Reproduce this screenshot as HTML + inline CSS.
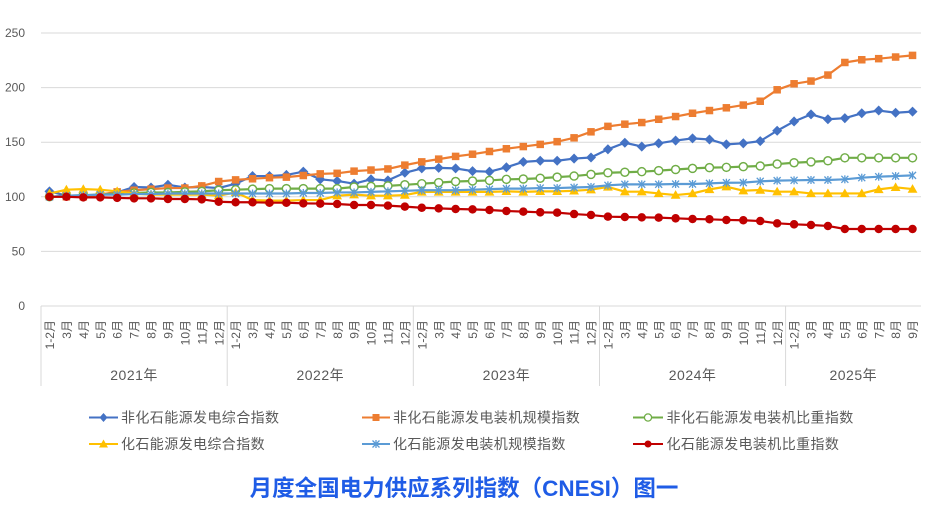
<!DOCTYPE html>
<html>
<head>
<meta charset="utf-8">
<style>
html,body{margin:0;padding:0;background:#fff;}
svg{display:block;}
.yl{font-family:"Liberation Sans","Noto Sans CJK SC",sans-serif;font-size:12px;fill:#595959;}
.ml{font-family:"Liberation Sans","Noto Sans CJK SC",sans-serif;font-size:12px;fill:#595959;}
.yr{font-family:"Liberation Sans","Noto Sans CJK SC",sans-serif;font-size:14px;fill:#595959;letter-spacing:0.5px;}
.lg{font-family:"Liberation Sans","Noto Sans CJK SC",sans-serif;font-size:14px;fill:#595959;letter-spacing:0.4px;}
.tt{font-family:"Liberation Sans","Noto Sans CJK SC",sans-serif;font-size:22.5px;font-weight:bold;fill:#1f5ce6;}
</style>
</head>
<body>
<svg width="946" height="506" viewBox="0 0 946 506" xmlns="http://www.w3.org/2000/svg">
<defs>
  <marker id="mD" markerUnits="userSpaceOnUse" overflow="visible" markerWidth="1" markerHeight="1" refX="0" refY="0">
    <path d="M0,4.6 L0.295,0 L0,-4.6 L-0.295,0Z" fill="#4472C4"/>
  </marker>
  <marker id="mS" markerUnits="userSpaceOnUse" overflow="visible" markerWidth="1" markerHeight="1" refX="0" refY="0">
    <rect x="-0.222" y="-3.43" width="0.444" height="6.86" fill="#ED7D31"/>
  </marker>
  <marker id="mO" markerUnits="userSpaceOnUse" overflow="visible" markerWidth="1" markerHeight="1" refX="0" refY="0">
    <ellipse cx="0" cy="0" rx="0.28" ry="4.35" fill="#70AD47"/>
    <ellipse cx="0" cy="0" rx="0.195" ry="3.0" fill="#ffffff"/>
  </marker>
  <marker id="mT" markerUnits="userSpaceOnUse" overflow="visible" markerWidth="1" markerHeight="1" refX="0" refY="0">
    <path d="M0,4.5 L0.29,-3.4 L-0.29,-3.4Z" fill="#FFC000"/>
  </marker>
  <marker id="mX" markerUnits="userSpaceOnUse" overflow="visible" markerWidth="1" markerHeight="1" refX="0" refY="0">
    <polygon points="-0.1796,-3.626 0.234,2.784 0.1796,3.626 -0.234,-2.784" fill="#5B9BD5"/>
    <polygon points="-0.1796,3.626 0.234,-2.784 0.1796,-3.626 -0.234,2.784" fill="#5B9BD5"/>
    <rect x="-0.0384" y="-3.663" width="0.0768" height="7.326" fill="#5B9BD5"/>
  </marker>
  <marker id="mR" markerUnits="userSpaceOnUse" overflow="visible" markerWidth="1" markerHeight="1" refX="0" refY="0">
    <ellipse cx="0" cy="0" rx="0.25" ry="3.9" fill="#C00000"/>
  </marker>
</defs>

<!-- gridlines -->
<g stroke="#d9d9d9" stroke-width="1">
  <line x1="41" y1="33" x2="921" y2="33"/>
  <line x1="41" y1="87.6" x2="921" y2="87.6"/>
  <line x1="41" y1="142.2" x2="921" y2="142.2"/>
  <line x1="41" y1="196.8" x2="921" y2="196.8"/>
  <line x1="41" y1="251.4" x2="921" y2="251.4"/>
  <line x1="41" y1="306" x2="921" y2="306"/>
  <line x1="41" y1="306" x2="41" y2="386"/>
  <line x1="227.2" y1="306" x2="227.2" y2="386"/>
  <line x1="413.3" y1="306" x2="413.3" y2="386"/>
  <line x1="599.5" y1="306" x2="599.5" y2="386"/>
  <line x1="785.6" y1="306" x2="785.6" y2="386"/>
</g>

<!-- y labels -->
<g class="yl" text-anchor="end">
  <text x="25" y="37">250</text>
  <text x="25" y="91.6">200</text>
  <text x="25" y="146.2">150</text>
  <text x="25" y="200.8">100</text>
  <text x="25" y="255.4">50</text>
  <text x="25" y="310">0</text>
</g>

<!-- series -->
<g transform="translate(49.46,306) scale(16.923,-1.092)" fill="none" stroke-linejoin="round">
  <polyline vector-effect="non-scaling-stroke" stroke="#4472C4" stroke-width="2.2" points="0,105 1,101 2,101 3,102 4,104 5,109 6,108.5 7,111 8,108.5 9,109 10,108 11,112 12,119 13,119 14,120 15,123 16,116 17,114.5 18,112 19,116 20,115 21,122 22,126 23,126.5 24,126 25,123.5 26,123 27,127 28,132 29,133 30,133 31,135 32,136 33,143.5 34,149.5 35,146 36,149 37,151.5 38,153.5 39,152.5 40,148 41,149 42,151 43,160.5 44,169 45,175.5 46,171 47,172 48,176.5 49,179 50,177 51,178"/>
  <polyline stroke="none" marker-start="url(#mD)" marker-mid="url(#mD)" marker-end="url(#mD)" points="0,105 1,101 2,101 3,102 4,104 5,109 6,108.5 7,111 8,108.5 9,109 10,108 11,112 12,119 13,119 14,120 15,123 16,116 17,114.5 18,112 19,116 20,115 21,122 22,126 23,126.5 24,126 25,123.5 26,123 27,127 28,132 29,133 30,133 31,135 32,136 33,143.5 34,149.5 35,146 36,149 37,151.5 38,153.5 39,152.5 40,148 41,149 42,151 43,160.5 44,169 45,175.5 46,171 47,172 48,176.5 49,179 50,177 51,178"/>

  <polyline vector-effect="non-scaling-stroke" stroke="#ED7D31" stroke-width="2.2" points="0,100 1,100 2,100 3,102 4,104.5 5,106 6,107 7,108 8,108 9,110 10,114 11,115.5 12,116.5 13,117.5 14,118 15,119.5 16,121 17,121.5 18,123.5 19,124.5 20,125.5 21,129 22,132 23,134.5 24,137 25,139 26,141.5 27,144 28,146 29,148 30,150.5 31,154 32,159.5 33,164.5 34,166.5 35,168 36,171 37,173.5 38,176.5 39,179 40,181.5 41,184 42,187.5 43,198 44,203.5 45,206 46,211.5 47,223 48,225.5 49,226.5 50,228 51,229.5"/>
  <polyline stroke="none" marker-start="url(#mS)" marker-mid="url(#mS)" marker-end="url(#mS)" points="0,100 1,100 2,100 3,102 4,104.5 5,106 6,107 7,108 8,108 9,110 10,114 11,115.5 12,116.5 13,117.5 14,118 15,119.5 16,121 17,121.5 18,123.5 19,124.5 20,125.5 21,129 22,132 23,134.5 24,137 25,139 26,141.5 27,144 28,146 29,148 30,150.5 31,154 32,159.5 33,164.5 34,166.5 35,168 36,171 37,173.5 38,176.5 39,179 40,181.5 41,184 42,187.5 43,198 44,203.5 45,206 46,211.5 47,223 48,225.5 49,226.5 50,228 51,229.5"/>

  <polyline vector-effect="non-scaling-stroke" stroke="#70AD47" stroke-width="2.2" points="0,100 1,101 2,101.5 3,102 4,103 5,103.5 6,104 7,104 8,104.5 9,105 10,106 11,106.5 12,107 13,107.5 14,107.5 15,107.5 16,107.5 17,107.5 18,109 19,109.5 20,110 21,111 22,112 23,113 24,114 25,114.5 26,115 27,116 28,116.3 29,117 30,118 31,119 32,120.5 33,122 34,122.5 35,123 36,124 37,125 38,126 39,126.7 40,127 41,127.6 42,128.2 43,130 44,131.2 45,132 46,133 47,135.7 48,135.7 49,135.7 50,135.7 51,135.7"/>
  <polyline stroke="none" marker-start="url(#mO)" marker-mid="url(#mO)" marker-end="url(#mO)" points="0,100 1,101 2,101.5 3,102 4,103 5,103.5 6,104 7,104 8,104.5 9,105 10,106 11,106.5 12,107 13,107.5 14,107.5 15,107.5 16,107.5 17,107.5 18,109 19,109.5 20,110 21,111 22,112 23,113 24,114 25,114.5 26,115 27,116 28,116.3 29,117 30,118 31,119 32,120.5 33,122 34,122.5 35,123 36,124 37,125 38,126 39,126.7 40,127 41,127.6 42,128.2 43,130 44,131.2 45,132 46,133 47,135.7 48,135.7 49,135.7 50,135.7 51,135.7"/>

  <polyline vector-effect="non-scaling-stroke" stroke="#FFC000" stroke-width="2.2" points="0,103 1,106.5 2,107 3,106.5 4,105 5,103 6,102 7,102 8,102 9,102 10,101 11,104 12,97 13,96.5 14,96.5 15,97 16,97 17,101 18,102 19,101 20,101 21,101.6 22,104.5 23,104.5 24,104.5 25,104.5 26,104.5 27,105 28,104.5 29,105 30,105 31,105.5 32,106.5 33,109 34,104.7 35,104.7 36,103.1 37,101.6 38,103.1 39,106.8 40,109.3 41,105.6 42,106.2 43,104.7 44,104.7 45,103.1 46,103.1 47,103.1 48,103.1 49,106.8 50,108.7 51,107.1"/>
  <polyline stroke="none" marker-start="url(#mT)" marker-mid="url(#mT)" marker-end="url(#mT)" points="0,103 1,106.5 2,107 3,106.5 4,105 5,103 6,102 7,102 8,102 9,102 10,101 11,104 12,97 13,96.5 14,96.5 15,97 16,97 17,101 18,102 19,101 20,101 21,101.6 22,104.5 23,104.5 24,104.5 25,104.5 26,104.5 27,105 28,104.5 29,105 30,105 31,105.5 32,106.5 33,109 34,104.7 35,104.7 36,103.1 37,101.6 38,103.1 39,106.8 40,109.3 41,105.6 42,106.2 43,104.7 44,104.7 45,103.1 46,103.1 47,103.1 48,103.1 49,106.8 50,108.7 51,107.1"/>

  <polyline vector-effect="non-scaling-stroke" stroke="#5B9BD5" stroke-width="2.2" points="0,100 1,101 2,101.5 3,102 4,102 5,102.5 6,102.5 7,103 8,103 9,103 10,103 11,103 12,103 13,103 14,103 15,103.5 16,103.5 17,104 18,104 19,104.5 20,105 21,105.5 22,106 23,106 24,106 25,106.5 26,107 27,107.5 28,107.5 29,108 30,108 31,108.5 32,109 33,110.5 34,111.4 35,111.4 36,111.4 37,111.7 38,111.7 39,112.3 40,112.9 41,113 42,114.2 43,114.8 44,115.1 45,115.4 46,115.4 47,116 48,117.5 49,118.4 50,119 51,119.6"/>
  <polyline stroke="none" marker-start="url(#mX)" marker-mid="url(#mX)" marker-end="url(#mX)" points="0,100 1,101 2,101.5 3,102 4,102 5,102.5 6,102.5 7,103 8,103 9,103 10,103 11,103 12,103 13,103 14,103 15,103.5 16,103.5 17,104 18,104 19,104.5 20,105 21,105.5 22,106 23,106 24,106 25,106.5 26,107 27,107.5 28,107.5 29,108 30,108 31,108.5 32,109 33,110.5 34,111.4 35,111.4 36,111.4 37,111.7 38,111.7 39,112.3 40,112.9 41,113 42,114.2 43,114.8 44,115.1 45,115.4 46,115.4 47,116 48,117.5 49,118.4 50,119 51,119.6"/>

  <polyline vector-effect="non-scaling-stroke" stroke="#C00000" stroke-width="2.2" points="0,100 1,100 2,99.5 3,99.5 4,99 5,98.6 6,98.6 7,98 8,98 9,97.7 10,95.5 11,95 12,95 13,94.6 14,94.6 15,94 16,93.8 17,93.4 18,92.5 19,92.5 20,91.9 21,91 22,90 23,89.4 24,88.8 25,88.5 26,87.9 27,87 28,86.4 29,85.8 30,85.5 31,84.2 32,83.3 33,81.8 34,81.5 35,81.2 36,80.9 37,80.3 38,79.7 39,79.4 40,78.8 41,78.5 42,77.8 43,75.7 44,74.8 45,74.2 46,73.3 47,70.5 48,70.5 49,70.5 50,70.5 51,70.5"/>
  <polyline stroke="none" marker-start="url(#mR)" marker-mid="url(#mR)" marker-end="url(#mR)" points="0,100 1,100 2,99.5 3,99.5 4,99 5,98.6 6,98.6 7,98 8,98 9,97.7 10,95.5 11,95 12,95 13,94.6 14,94.6 15,94 16,93.8 17,93.4 18,92.5 19,92.5 20,91.9 21,91 22,90 23,89.4 24,88.8 25,88.5 26,87.9 27,87 28,86.4 29,85.8 30,85.5 31,84.2 32,83.3 33,81.8 34,81.5 35,81.2 36,80.9 37,80.3 38,79.7 39,79.4 40,78.8 41,78.5 42,77.8 43,75.7 44,74.8 45,74.2 46,73.3 47,70.5 48,70.5 49,70.5 50,70.5 51,70.5"/>
</g>

<!-- month labels -->
<g class="ml" text-anchor="end">
  <text transform="translate(54.1,320) rotate(-90)">1-2月</text>
  <text transform="translate(71.0,320) rotate(-90)">3月</text>
  <text transform="translate(87.9,320) rotate(-90)">4月</text>
  <text transform="translate(104.8,320) rotate(-90)">5月</text>
  <text transform="translate(121.7,320) rotate(-90)">6月</text>
  <text transform="translate(138.7,320) rotate(-90)">7月</text>
  <text transform="translate(155.6,320) rotate(-90)">8月</text>
  <text transform="translate(172.5,320) rotate(-90)">9月</text>
  <text transform="translate(189.4,320) rotate(-90)">10月</text>
  <text transform="translate(206.4,320) rotate(-90)">11月</text>
  <text transform="translate(223.3,320) rotate(-90)">12月</text>
  <text transform="translate(240.2,320) rotate(-90)">1-2月</text>
  <text transform="translate(257.1,320) rotate(-90)">3月</text>
  <text transform="translate(274.1,320) rotate(-90)">4月</text>
  <text transform="translate(291.0,320) rotate(-90)">5月</text>
  <text transform="translate(307.9,320) rotate(-90)">6月</text>
  <text transform="translate(324.8,320) rotate(-90)">7月</text>
  <text transform="translate(341.8,320) rotate(-90)">8月</text>
  <text transform="translate(358.7,320) rotate(-90)">9月</text>
  <text transform="translate(375.6,320) rotate(-90)">10月</text>
  <text transform="translate(392.5,320) rotate(-90)">11月</text>
  <text transform="translate(409.4,320) rotate(-90)">12月</text>
  <text transform="translate(426.4,320) rotate(-90)">1-2月</text>
  <text transform="translate(443.3,320) rotate(-90)">3月</text>
  <text transform="translate(460.2,320) rotate(-90)">4月</text>
  <text transform="translate(477.1,320) rotate(-90)">5月</text>
  <text transform="translate(494.1,320) rotate(-90)">6月</text>
  <text transform="translate(511.0,320) rotate(-90)">7月</text>
  <text transform="translate(527.9,320) rotate(-90)">8月</text>
  <text transform="translate(544.8,320) rotate(-90)">9月</text>
  <text transform="translate(561.8,320) rotate(-90)">10月</text>
  <text transform="translate(578.7,320) rotate(-90)">11月</text>
  <text transform="translate(595.6,320) rotate(-90)">12月</text>
  <text transform="translate(612.5,320) rotate(-90)">1-2月</text>
  <text transform="translate(629.4,320) rotate(-90)">3月</text>
  <text transform="translate(646.4,320) rotate(-90)">4月</text>
  <text transform="translate(663.3,320) rotate(-90)">5月</text>
  <text transform="translate(680.2,320) rotate(-90)">6月</text>
  <text transform="translate(697.1,320) rotate(-90)">7月</text>
  <text transform="translate(714.1,320) rotate(-90)">8月</text>
  <text transform="translate(731.0,320) rotate(-90)">9月</text>
  <text transform="translate(747.9,320) rotate(-90)">10月</text>
  <text transform="translate(764.8,320) rotate(-90)">11月</text>
  <text transform="translate(781.8,320) rotate(-90)">12月</text>
  <text transform="translate(798.7,320) rotate(-90)">1-2月</text>
  <text transform="translate(815.6,320) rotate(-90)">3月</text>
  <text transform="translate(832.5,320) rotate(-90)">4月</text>
  <text transform="translate(849.4,320) rotate(-90)">5月</text>
  <text transform="translate(866.4,320) rotate(-90)">6月</text>
  <text transform="translate(883.3,320) rotate(-90)">7月</text>
  <text transform="translate(900.2,320) rotate(-90)">8月</text>
  <text transform="translate(917.1,320) rotate(-90)">9月</text>
</g>

<!-- year labels -->
<g class="yr" text-anchor="middle">
  <text x="134.1" y="380">2021年</text>
  <text x="320.3" y="380">2022年</text>
  <text x="506.4" y="380">2023年</text>
  <text x="692.6" y="380">2024年</text>
  <text x="853.3" y="380">2025年</text>
</g>

<!-- legend -->
<g>
  <line x1="89" y1="417.5" x2="118" y2="417.5" stroke="#4472C4" stroke-width="2"/>
  <path d="M103.5,413 L107.5,417.5 L103.5,422 L99.5,417.5Z" fill="#4472C4"/>
  <text class="lg" x="121" y="422.5">非化石能源发电综合指数</text>

  <line x1="362" y1="417.5" x2="390" y2="417.5" stroke="#ED7D31" stroke-width="2"/>
  <rect x="372.5" y="414" width="7" height="7" fill="#ED7D31"/>
  <text class="lg" x="393" y="422.5">非化石能源发电装机规模指数</text>

  <line x1="633" y1="417.5" x2="663" y2="417.5" stroke="#70AD47" stroke-width="2"/>
  <circle cx="648" cy="417.5" r="3.6" fill="#fff" stroke="#70AD47" stroke-width="1.3"/>
  <text class="lg" x="666.5" y="422.5">非化石能源发电装机比重指数</text>

  <line x1="89" y1="444" x2="118" y2="444" stroke="#FFC000" stroke-width="2"/>
  <path d="M103.5,439.5 L108,447.5 L99,447.5Z" fill="#FFC000"/>
  <text class="lg" x="121" y="449">化石能源发电综合指数</text>

  <line x1="362" y1="444" x2="390" y2="444" stroke="#5B9BD5" stroke-width="2"/>
  <path d="M372.5,440.5 L379.5,447.5 M379.5,440.5 L372.5,447.5 M376,440 L376,448" stroke="#5B9BD5" stroke-width="1.3"/>
  <text class="lg" x="393" y="449">化石能源发电装机规模指数</text>

  <line x1="633" y1="444" x2="663" y2="444" stroke="#C00000" stroke-width="2"/>
  <circle cx="648" cy="444" r="3.5" fill="#C00000"/>
  <text class="lg" x="666.5" y="449">化石能源发电装机比重指数</text>
</g>

<!-- title -->
<text class="tt" x="464" y="496" text-anchor="middle">月度全国电力供应系列指数（CNESI）图一</text>
</svg>
</body>
</html>
